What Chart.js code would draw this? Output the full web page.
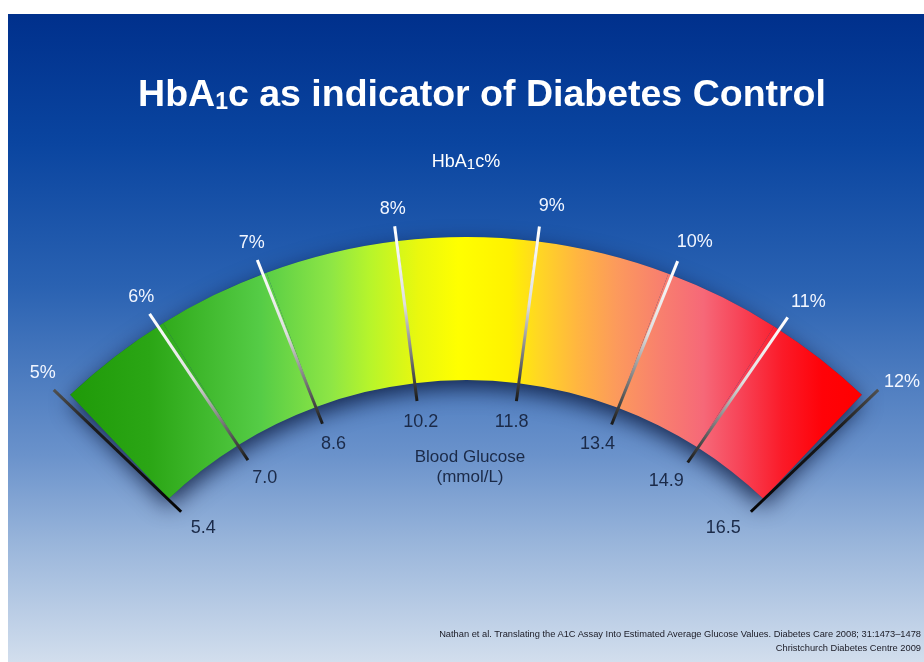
<!DOCTYPE html>
<html lang="en">
<head>
  <meta charset="UTF-8" />
  <title>HbA1c as indicator of Diabetes Control</title>
  <script src="https://cdn.jsdelivr.net/npm/chart.js"></script>
  <style>
    html, body {
      margin: 0;
      padding: 0;
      background: #ffffff;
      width: 924px;
      height: 662px;
      overflow: hidden;
      font-family: "Liberation Sans", Arial, sans-serif;
    }
    .slide {
      position: absolute;
      left: 8px;
      top: 14px;
      width: 916px;
      height: 648px;
      background: linear-gradient(to bottom, #00308c 0%, #0a45a0 20%, #2a62b2 42%, #6a92cb 68%, #9ab6db 82%, #d2deed 100%);
    }
    canvas {
      position: absolute;
      left: 0;
      top: 0;
    }
    .title {
      position: absolute;
      left: 16px;
      width: 916px;
      top: 58px;
      text-align: center;
      color: #ffffff;
      font-weight: bold;
      font-size: 37.5px;
      margin: 0;
    }
    .title sub {
      font-size: 23px;
      vertical-align: -3px;
    }
    .sub {
      position: absolute;
      left: 0;
      width: 916px;
      top: 137px;
      text-align: center;
      color: #ffffff;
      font-size: 18px;
    }
    .sub span {
      font-size: 15px;
      vertical-align: -2px;
    }
    .glucose {
      position: absolute;
      left: 4px;
      width: 916px;
      top: 433px;
      text-align: center;
      color: #1b2a48;
      font-size: 17px;
      line-height: 20px;
    }
    .refs {
      position: absolute;
      right: 3px;
      top: 613px;
      text-align: right;
      color: #1a1a24;
      font-size: 9.3px;
      line-height: 14px;
    }
  </style>
</head>
<body>
  <div class="slide">
    <canvas id="gauge" width="916" height="648"></canvas>
    <h1 class="title">HbA<sub>1</sub>c as indicator of Diabetes Control</h1>
    <div class="sub">HbA<span>1</span>c%</div>
    <div class="glucose">Blood Glucose<br />(mmol/L)</div>
    <div class="refs">
      Nathan et al. Translating the A1C Assay Into Estimated Average Glucose Values. Diabetes Care 2008; 31:1473–1478<br />
      Christchurch Diabetes Centre 2009
    </div>
  </div>

  <script>
    // HbA1c bands, 1 percentage point each
    const bands = ["5-6%", "6-7%", "7-8%", "8-9%", "9-10%", "10-11%", "11-12%"];
    // angular width of each band as drawn on the slide (degrees)
    const bandSpans = [11.7, 11.5, 13.5, 13.8, 13.6, 11.8, 11.1];
    // boundary labels
    const hba1cLabels = ["5%", "6%", "7%", "8%", "9%", "10%", "11%", "12%"];
    const glucoseLabels = ["5.4", "7.0", "8.6", "10.2", "11.8", "13.4", "14.9", "16.5"];

    const OUTER_R = 575;
    const CUTOUT = "75.1%";
    const SWEEP = bandSpans.reduce((a, b) => a + b, 0);

    const colorStops = [
      [0.0, "#1f9a08"],
      [0.1, "#2ba615"],
      [0.24, "#55cc46"],
      [0.33, "#8ee645"],
      [0.38, "#b8f52a"],
      [0.44, "#eaf80e"],
      [0.49, "#ffff00"],
      [0.555, "#fff200"],
      [0.59, "#ffd822"],
      [0.64, "#ffb640"],
      [0.69, "#fc9a5c"],
      [0.745, "#f8806e"],
      [0.8, "#f66878"],
      [0.846, "#f74458"],
      [0.9, "#fb1a28"],
      [0.95, "#ff0208"],
      [1.0, "#ff0000"],
    ];

    function bandGradient(context) {
      const chart = context.chart;
      const area = chart.chartArea;
      if (!area) return "#ffff00";
      const cx = (area.left + area.right) / 2;
      const half = OUTER_R * Math.sin((SWEEP / 2) * Math.PI / 180);
      const g = chart.ctx.createLinearGradient(cx - half, 0, cx + half, 0);
      colorStops.forEach(s => g.addColorStop(s[0], s[1]));
      return g;
    }

    function boundaries(chart) {
      const arcs = chart.getDatasetMeta(0).data;
      const list = arcs.map(a => a.startAngle);
      list.push(arcs[arcs.length - 1].endAngle);
      return { arcs, list };
    }

    // dark shadow under the whole band
    const shadowPlugin = {
      id: "bandShadow",
      beforeDatasetsDraw(chart) {
        const { arcs, list } = boundaries(chart);
        const a = arcs[0];
        const ctx = chart.ctx;
        ctx.save();
        ctx.shadowColor = "rgba(0, 10, 40, 0.75)";
        ctx.shadowBlur = 22;
        ctx.shadowOffsetY = 8;
        ctx.fillStyle = "#1f3f78";
        ctx.beginPath();
        ctx.arc(a.x, a.y, a.outerRadius, list[0], list[list.length - 1]);
        ctx.arc(a.x, a.y, a.innerRadius, list[list.length - 1], list[0], true);
        ctx.closePath();
        ctx.fill();
        ctx.restore();
      },
    };

    // tick lines and boundary labels
    const tickPlugin = {
      id: "ticks",
      afterDatasetsDraw(chart) {
        const { arcs, list } = boundaries(chart);
        const a = arcs[0];
        const ctx = chart.ctx;
        const rIn = a.innerRadius - 18;
        const rOut = a.outerRadius + 15;
        const tilt = 1.2 * Math.PI / 180;
        ctx.save();
        list.forEach((ang, i) => {
          const sinT = Math.sin(ang + Math.PI / 2);
          const top = ang + tilt * sinT;
          const x1 = a.x + Math.cos(top) * rOut, y1 = a.y + Math.sin(top) * rOut;
          const x2 = a.x + Math.cos(ang) * rIn, y2 = a.y + Math.sin(ang) * rIn;
          const g = ctx.createLinearGradient(x1, y1, x2, y2);
          if (i === 0 || i === list.length - 1) {
            g.addColorStop(0, "#505050");
            g.addColorStop(0.3, "#1c1c1c");
            g.addColorStop(1, "#050505");
          } else {
            g.addColorStop(0, "#ffffff");
            g.addColorStop(0.45, "#dedede");
            g.addColorStop(0.75, "#767676");
            g.addColorStop(1, "#181818");
          }
          ctx.strokeStyle = g;
          ctx.lineWidth = 3;
          ctx.lineCap = "butt";
          ctx.beginPath();
          ctx.moveTo(x1, y1);
          ctx.lineTo(x2, y2);
          ctx.stroke();

          ctx.font = '18px "Liberation Sans", Arial, sans-serif';
          ctx.textAlign = "center";
          ctx.textBaseline = "middle";
          ctx.fillStyle = "#f2f6ff";
          const dx = sinT > 0 ? 10 + 20 * sinT : 16 * sinT;
          const dy = sinT > 0 ? -21 + 40 * sinT * sinT * sinT : -17;
          ctx.fillText(hba1cLabels[i], x1 + dx, y1 + dy);
          ctx.fillStyle = "#1b2a48";
          const gx = sinT > 0 ? -40 * sinT : -32 * sinT;
          ctx.fillText(glucoseLabels[i], x2 + gx, y2 + 21 - 10 * sinT * sinT);
        });
        ctx.restore();
      },
    };

    new Chart(document.getElementById("gauge"), {
      type: "doughnut",
      data: {
        labels: bands,
        datasets: [
          {
            data: bandSpans,
            backgroundColor: bandGradient,
            borderWidth: 0,
            hoverOffset: 0,
          },
        ],
      },
      options: {
        responsive: false,
        animation: false,
        rotation: -SWEEP / 2,
        circumference: SWEEP,
        radius: OUTER_R,
        cutout: CUTOUT,
        layout: { padding: { top: 100, bottom: 40.4, left: 0, right: 0 } },
        plugins: {
          legend: { display: false },
          tooltip: { enabled: false },
          title: { display: false },
        },
        events: [],
      },
      plugins: [shadowPlugin, tickPlugin],
    });
  </script>
</body>
</html>
